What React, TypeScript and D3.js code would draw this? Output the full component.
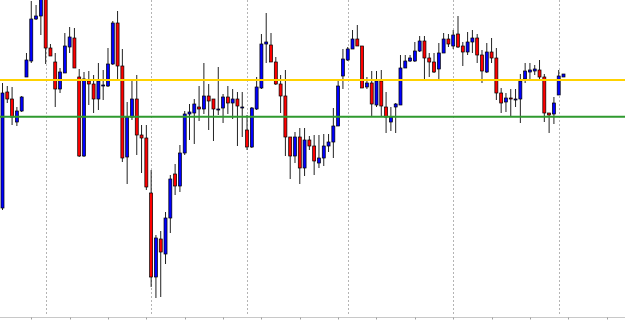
import React from "react";
import * as d3 from "d3";

const W = 625;
const H = 322;

const opens = [1.1192,1.1308,1.1301,1.1278,1.1289,1.1323,1.1339,1.1381,1.1384,1.1405,
1.1352,1.1338,1.1311,1.1327,1.1353,1.1362,1.1323,1.1244,1.1319,1.1316,
1.1301,1.1314,1.1314,1.1336,1.1377,1.1334,1.1243,1.1283,1.1301,1.1265,
1.1262,1.1207,1.1123,1.1161,1.1146,1.1182,1.1226,1.1214,1.1247,1.1286,
1.1287,1.1293,1.1291,1.1304,1.1301,1.1290,1.1292,1.1303,1.1297,1.1301,
1.1292,1.1270,1.1253,1.1291,1.1312,1.1356,1.1355,1.1338,1.1316,1.1304,
1.1263,1.1244,1.1263,1.1232,1.1260,1.1254,1.1237,1.1242,1.1254,1.1258,
1.1274,1.1324,1.1340,1.1351,1.1361,1.1354,1.1313,1.1317,1.1295,1.1319,
1.1293,1.1278,1.1293,1.1295,1.1332,1.1339,1.1339,1.1349,1.1359,1.1342,
1.1338,1.1331,1.1347,1.1361,1.1354,1.1366,1.1354,1.1348,1.1358,1.1362,
1.1345,1.1328,1.1348,1.1342,1.1307,1.1298,1.1302,1.1300,1.1301,1.1321,
1.1328,1.1329,1.1330,1.1323,1.1287,1.1286,1.1305,1.1323];

const highs = [1.1317,1.1314,1.1313,1.1293,1.1304,1.1347,1.1399,1.1395,1.1410,1.1410,
1.1356,1.1347,1.1332,1.1367,1.1373,1.1372,1.1331,1.1328,1.1329,1.1325,
1.1337,1.1330,1.1352,1.1379,1.1389,1.1351,1.1298,1.1320,1.1325,1.1275,
1.1275,1.1230,1.1165,1.1169,1.1188,1.1225,1.1236,1.1255,1.1289,1.1296,
1.1301,1.1314,1.1337,1.1316,1.1301,1.1333,1.1306,1.1314,1.1311,1.1308,
1.1308,1.1285,1.1293,1.1323,1.1366,1.1387,1.1367,1.1343,1.1325,1.1330,
1.1263,1.1268,1.1272,1.1272,1.1264,1.1265,1.1265,1.1266,1.1266,1.1292,
1.1320,1.1351,1.1353,1.1370,1.1375,1.1354,1.1323,1.1329,1.1329,1.1330,
1.1308,1.1293,1.1297,1.1345,1.1345,1.1345,1.1358,1.1364,1.1364,1.1347,
1.1347,1.1357,1.1367,1.1366,1.1370,1.1384,1.1358,1.1368,1.1370,1.1366,
1.1350,1.1357,1.1362,1.1352,1.1312,1.1307,1.1311,1.1311,1.1326,1.1337,
1.1337,1.1335,1.1340,1.1326,1.1287,1.1303,1.1330,1.1326];

const lows = [1.1190,1.1297,1.1275,1.1274,1.1288,1.1323,1.1337,1.1380,1.1365,1.1336,
1.1344,1.1293,1.1307,1.1327,1.1347,1.1332,1.1243,1.1243,1.1295,1.1287,
1.1290,1.1300,1.1313,1.1335,1.1320,1.1238,1.1216,1.1280,1.1245,1.1227,
1.1210,1.1113,1.1102,1.1103,1.1136,1.1167,1.1205,1.1208,1.1245,1.1260,
1.1256,1.1279,1.1286,1.1270,1.1259,1.1285,1.1277,1.1286,1.1281,1.1254,
1.1263,1.1250,1.1252,1.1290,1.1311,1.1337,1.1338,1.1315,1.1287,1.1244,
1.1221,1.1237,1.1216,1.1224,1.1250,1.1225,1.1232,1.1234,1.1248,1.1242,
1.1274,1.1311,1.1339,1.1351,1.1354,1.1312,1.1311,1.1283,1.1293,1.1283,
1.1267,1.1269,1.1267,1.1295,1.1332,1.1338,1.1338,1.1348,1.1321,1.1323,
1.1327,1.1319,1.1347,1.1353,1.1351,1.1352,1.1334,1.1345,1.1347,1.1337,
1.1317,1.1327,1.1337,1.1300,1.1287,1.1288,1.1283,1.1293,1.1277,1.1317,
1.1321,1.1325,1.1321,1.1278,1.1267,1.1276,1.1305,1.1323];

const closes = [1.1307,1.1301,1.1283,1.1289,1.1303,1.1340,1.1381,1.1384,1.1405,1.1352,
1.1344,1.1311,1.1328,1.1354,1.1363,1.1332,1.1244,1.1321,1.1316,1.1301,
1.1319,1.1315,1.1336,1.1377,1.1334,1.1242,1.1283,1.1301,1.1265,1.1262,
1.1213,1.1123,1.1162,1.1148,1.1182,1.1221,1.1214,1.1247,1.1286,1.1288,
1.1296,1.1291,1.1304,1.1299,1.1291,1.1291,1.1303,1.1297,1.1301,1.1294,
1.1293,1.1253,1.1292,1.1313,1.1356,1.1358,1.1338,1.1316,1.1304,1.1263,
1.1244,1.1263,1.1232,1.1260,1.1254,1.1239,1.1242,1.1254,1.1258,1.1274,
1.1314,1.1341,1.1351,1.1361,1.1354,1.1312,1.1317,1.1296,1.1319,1.1294,
1.1283,1.1283,1.1296,1.1332,1.1339,1.1342,1.1349,1.1359,1.1342,1.1338,
1.1328,1.1347,1.1361,1.1356,1.1365,1.1353,1.1348,1.1358,1.1362,1.1345,
1.1329,1.1348,1.1342,1.1307,1.1297,1.1302,1.1301,1.1301,1.1319,1.1329,
1.1330,1.1331,1.1323,1.1287,1.1285,1.1297,1.1324,1.1326];

// horizontal levels
const resistanceLevel = 1.1320;
const supportLevel = 1.12833;

// candle indices where vertical period separators sit
const gridIndices = [9, 31, 51, 72, 94, 116];

// bottom time-axis tick indices and labels
const tickIndices = [6, 14, 22, 30, 38, 46, 54, 62, 70, 78, 86, 94, 102, 110, 118, 126];
const tickLabels = [
  "2 Mar 06:00", "2 Mar 14:00", "2 Mar 22:00", "3 Mar 06:00",
  "3 Mar 14:00", "3 Mar 22:00", "4 Mar 06:00", "4 Mar 14:00",
  "4 Mar 22:00", "7 Mar 06:00", "7 Mar 14:00", "7 Mar 22:00",
  "8 Mar 06:00", "8 Mar 14:00", "8 Mar 22:00", "9 Mar 06:00",
];

export default function App() {
  const x = d3.scaleLinear().domain([0, opens.length - 1]).range([2.5, 563.5]);
  const y = d3.scaleLinear().domain([1.14, 1.1078]).range([0, 322]);
  const axisY = 317.5;

  return (
    <svg
      width={W}
      height={H}
      style={{ position: "absolute", left: 0, top: 0, background: "#fff" }}
      fontFamily="Liberation Sans, Arial, sans-serif"
    >
      <rect x={0} y={0} width={W} height={H} fill="#ffffff" />
      {gridIndices.map((gi, k) => (
        <line
          key={"g" + k}
          x1={Math.round(x(gi)) + 0.5}
          x2={Math.round(x(gi)) + 0.5}
          y1={0}
          y2={axisY - 2}
          stroke="#b4b4b4"
          strokeWidth={1}
          strokeDasharray="2,2"
        />
      ))}
      {opens.map((o, i) => {
        const c = closes[i];
        const cx = x(i);
        const up = c >= o;
        const top = y(Math.max(o, c));
        const bot = y(Math.min(o, c));
        return (
          <g key={"c" + i}>
            <line x1={cx} x2={cx} y1={y(highs[i])} y2={y(lows[i])} stroke="#222" strokeWidth={1} />
            <rect
              x={cx - 1.5}
              y={top}
              width={3}
              height={Math.max(bot - top, 0.8)}
              fill={up ? "#0000ff" : "#ff0000"}
              stroke="#000"
              strokeWidth={0.7}
            />
          </g>
        );
      })}
      <line x1={0} x2={W} y1={y(resistanceLevel)} y2={y(resistanceLevel)} stroke="#ffd200" strokeWidth={2} />
      <line x1={0} x2={W} y1={y(supportLevel)} y2={y(supportLevel)} stroke="#2f9a2f" strokeWidth={2} />
      <line x1={0} x2={W} y1={axisY} y2={axisY} stroke="#c8c8c8" strokeWidth={1} />
      {tickIndices.map((ti, k) => (
        <g key={"t" + k}>
          <line
            x1={Math.round(x(ti)) + 0.5}
            x2={Math.round(x(ti)) + 0.5}
            y1={axisY}
            y2={axisY + 2}
            stroke="#a0a0a0"
            strokeWidth={1}
          />
          <text
            x={x(ti) + 2}
            y={327}
            fontSize={6.5}
            fill="#9a9a9a"
            textLength={32}
            lengthAdjust="spacingAndGlyphs"
          >
            {tickLabels[k]}
          </text>
        </g>
      ))}
    </svg>
  );
}
